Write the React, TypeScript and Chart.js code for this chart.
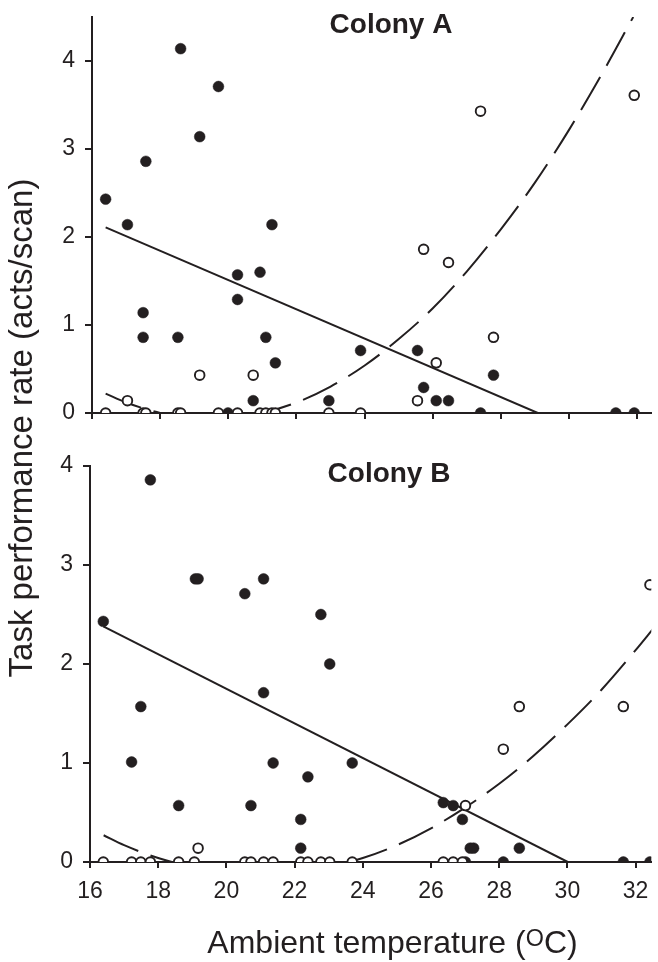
import React, { useEffect, useRef } from 'react';
import { Chart, registerables } from 'chart.js';

Chart.register(...registerables);

// ---------- data ----------
const X_TICKS = [16, 18, 20, 22, 24, 26, 28, 30, 32];
const Y_TICKS_A = [0, 1, 2, 3, 4];
const Y_TICKS_B = [0, 1, 2, 3, 4];

// Colony A – filled circles
const A_FILLED_X = [16.4, 17.04, 17.58, 17.5, 17.5, 18.6, 18.52, 19.16, 19.71, 19.99, 20.27, 20.27, 20.93, 20.73, 21.1, 21.28, 21.38, 22.95, 23.88, 25.55, 25.73, 26.1, 26.46, 27.4, 27.78, 31.37, 31.91];
const A_FILLED_Y = [2.43, 2.14, 2.86, 1.14, 0.86, 4.14, 0.86, 3.14, 3.71, 0, 1.57, 1.29, 1.6, 0.14, 0.86, 2.14, 0.57, 0.14, 0.71, 0.71, 0.29, 0.14, 0.14, 0, 0.43, 0, 0];
// Colony A – open circles
const A_OPEN_X = [16.4, 17.04, 17.5, 17.58, 18.52, 18.6, 19.16, 19.71, 20.27, 20.73, 20.93, 21.1, 21.28, 21.38, 22.95, 23.88, 25.55, 25.73, 26.1, 26.46, 27.4, 27.78, 31.91];
const A_OPEN_Y = [0, 0.14, 0, 0, 0, 0, 0.43, 0, 0, 0.43, 0, 0, 0, 0, 0, 0, 0.14, 1.86, 0.57, 1.71, 3.43, 0.86, 3.61];
// Colony A – fitted lines
const A_SOLID_X = [16.4, 29.08];
const A_SOLID_Y = [2.11, 0];
const A_DASH_X = [16.4, 17, 18, 19, 20, 21, 22, 23, 24, 25, 26, 27, 28, 29, 30, 31, 31.88];
const A_DASH_Y = [0.22, 0.12, 0.0, -0.06, -0.06, 0.0, 0.12, 0.3, 0.54, 0.84, 1.19, 1.61, 2.09, 2.62, 3.22, 3.88, 4.5];

// Colony B – filled circles
const B_FILLED_X = [16.39, 17.22, 17.49, 17.77, 18.6, 19.09, 19.17, 20.54, 20.72, 21.09, 21.09, 21.37, 22.18, 22.18, 22.39, 22.77, 23.03, 23.69, 26.36, 26.65, 26.92, 27.15, 27.25, 27.01, 28.12, 28.59, 31.64, 32.42];
const B_FILLED_Y = [2.43, 1.01, 1.57, 3.86, 0.57, 2.86, 2.86, 2.71, 0.57, 2.86, 1.71, 1.0, 0.43, 0.14, 0.86, 2.5, 2.0, 1.0, 0.6, 0.57, 0.43, 0.14, 0.14, 0, 0, 0.14, 0, 0];
// Colony B – open circles
const B_OPEN_X = [16.39, 17.22, 17.49, 17.77, 18.6, 19.06, 19.17, 20.54, 20.72, 21.09, 21.37, 22.18, 22.39, 22.77, 23.03, 23.69, 26.36, 26.65, 26.92, 27.01, 28.12, 28.59, 31.64, 32.42];
const B_OPEN_Y = [0, 0, 0, 0, 0, 0, 0.14, 0, 0, 0, 0, 0, 0, 0, 0, 0, 0, 0, 0, 0.57, 1.14, 1.57, 1.57, 2.8];
// Colony B – fitted lines
const B_SOLID_X = [16.39, 30.01];
const B_SOLID_Y = [2.38, 0];
const B_DASH_X = [16.4, 17, 18, 19, 20, 21, 22, 23, 24, 25, 26, 27, 28, 29, 30, 31, 32, 32.5];
const B_DASH_Y = [0.27, 0.17, 0.04, -0.05, -0.11, -0.13, -0.11, -0.05, 0.04, 0.17, 0.34, 0.55, 0.79, 1.07, 1.39, 1.74, 2.14, 2.35];

// ---------- styling ----------
const INK = '#231f20';
const FONT = '"Liberation Sans", Arial, Helvetica, sans-serif';

const zip = (xs: number[], ys: number[]) => xs.map((x, i) => ({ x, y: ys[i] }));

const titlePlugin = {
  id: 'panelTitle',
  afterDraw(chart: any, _args: any, opts: any) {
    const ctx = chart.ctx;
    ctx.save();
    ctx.font = `bold 28px ${FONT}`;
    ctx.fillStyle = INK;
    ctx.textAlign = 'center';
    ctx.textBaseline = 'alphabetic';
    ctx.fillText(opts.text, opts.x, opts.y);
    ctx.restore();
  },
};

type Panel = {
  filledX: number[]; filledY: number[];
  openX: number[]; openY: number[];
  solidX: number[]; solidY: number[];
  dashX: number[]; dashY: number[];
  yTicks: number[]; yMax: number; xMax: number;
  showXLabels: boolean; yAxisWidth: number; xAxisHeight: number; padTop: number;
  title: string; titleX: number; titleY: number;
};

function makeConfig(p: Panel): any {
  return {
    type: 'scatter',
    data: {
      datasets: [
        {
          data: zip(p.openX, p.openY), order: 0,
          pointRadius: 4.8, pointBorderWidth: 1.9,
          pointBackgroundColor: '#ffffff', pointBorderColor: INK, showLine: false,
        },
        {
          data: zip(p.filledX, p.filledY), order: 1,
          pointRadius: 5.4, pointBorderWidth: 0.5,
          pointBackgroundColor: INK, pointBorderColor: INK, showLine: false,
        },
        {
          data: zip(p.dashX, p.dashY), order: 2,
          showLine: true, pointRadius: 0, borderColor: INK, borderWidth: 2,
          borderDash: [38, 13], cubicInterpolationMode: 'monotone', fill: false,
        },
        {
          data: zip(p.solidX, p.solidY), order: 3,
          showLine: true, pointRadius: 0, borderColor: INK, borderWidth: 2, fill: false,
        },
      ],
    },
    options: {
      responsive: false,
      animation: false,
      events: [],
      layout: { padding: { top: p.padTop, left: 0, right: 0, bottom: 0 } },
      plugins: {
        legend: { display: false },
        tooltip: { enabled: false },
        panelTitle: { text: p.title, x: p.titleX, y: p.titleY },
      },
      scales: {
        x: {
          type: 'linear', min: 16, max: p.xMax,
          afterBuildTicks: (s: any) => { s.ticks = X_TICKS.map((v) => ({ value: v })); },
          afterFit: (s: any) => { s.height = p.xAxisHeight; s.paddingLeft = 0; s.paddingRight = 0; },
          ticks: {
            display: p.showXLabels, autoSkip: false, maxRotation: 0, padding: 10,
            color: INK, font: { family: FONT, size: 23 },
            callback: (v: any) => String(v),
          },
          grid: { drawOnChartArea: false, drawTicks: true, tickLength: 6, color: INK, lineWidth: 2 },
          border: { display: true, color: INK, width: 2 },
        },
        y: {
          type: 'linear', min: 0, max: p.yMax,
          afterBuildTicks: (s: any) => { s.ticks = p.yTicks.map((v) => ({ value: v })); },
          afterFit: (s: any) => { s.width = p.yAxisWidth; s.paddingTop = 0; s.paddingBottom = 0; },
          ticks: {
            padding: 10, color: INK, font: { family: FONT, size: 23 },
            callback: (v: any) => String(v),
          },
          grid: { drawOnChartArea: false, drawTicks: true, tickLength: 7, color: INK, lineWidth: 2 },
          border: { display: true, color: INK, width: 2 },
        },
      },
    },
    plugins: [titlePlugin],
  };
}

const PANEL_A: Panel = {
  filledX: A_FILLED_X, filledY: A_FILLED_Y, openX: A_OPEN_X, openY: A_OPEN_Y,
  solidX: A_SOLID_X, solidY: A_SOLID_Y, dashX: A_DASH_X, dashY: A_DASH_Y,
  yTicks: Y_TICKS_A, yMax: 4.5, xMax: 32.41,
  showXLabels: false, yAxisWidth: 92, xAxisHeight: 27, padTop: 17,
  title: 'Colony A', titleX: 391, titleY: 33,
};

const PANEL_B: Panel = {
  filledX: B_FILLED_X, filledY: B_FILLED_Y, openX: B_OPEN_X, openY: B_OPEN_Y,
  solidX: B_SOLID_X, solidY: B_SOLID_Y, dashX: B_DASH_X, dashY: B_DASH_Y,
  yTicks: Y_TICKS_B, yMax: 4, xMax: 32.46,
  showXLabels: true, yAxisWidth: 90, xAxisHeight: 100, padTop: 26,
  title: 'Colony B', titleX: 389, titleY: 42,
};

function PanelChart({ panel, top, height }: { panel: Panel; top: number; height: number }) {
  const ref = useRef<HTMLCanvasElement | null>(null);
  useEffect(() => {
    if (!ref.current) return;
    const chart = new Chart(ref.current, makeConfig(panel));
    return () => chart.destroy();
  }, [panel]);
  return (
    <canvas
      ref={ref}
      width={658}
      height={height}
      style={{ position: 'absolute', left: 0, top, width: 658, height, display: 'block' }}
    />
  );
}

export default function App() {
  return (
    <div style={{ position: 'absolute', left: 0, top: 0, width: 658, height: 962, background: '#fff', overflow: 'hidden' }}>
      <PanelChart panel={PANEL_A} top={0} height={440} />
      <PanelChart panel={PANEL_B} top={440} height={522} />
      <div
        style={{
          position: 'absolute', left: 21.2 - 300, top: 427.5 - 20, width: 600, height: 40,
          lineHeight: '40px', fontSize: 33, fontFamily: FONT, color: INK, textAlign: 'center',
          whiteSpace: 'nowrap', transform: 'rotate(-90deg)', transformOrigin: '50% 50%',
        }}
      >
        Task performance rate (acts/scan)
      </div>
      <div
        style={{
          position: 'absolute', left: 392.5 - 300, top: 922, width: 600, height: 40,
          lineHeight: '40px', fontSize: 32, fontFamily: FONT, color: INK, textAlign: 'center',
          whiteSpace: 'nowrap',
        }}
      >
        Ambient temperature (<span style={{ fontSize: '0.73em', verticalAlign: '0.3em', lineHeight: 0 }}>O</span>C)
      </div>
    </div>
  );
}
